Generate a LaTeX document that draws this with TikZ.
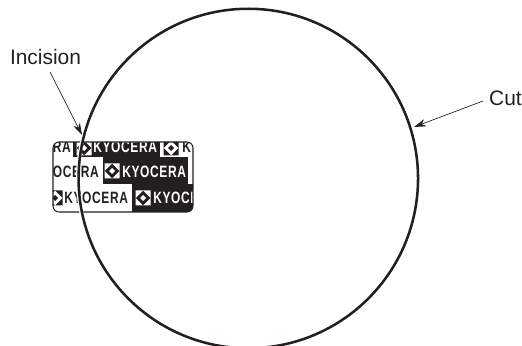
\documentclass[tikz,border=0pt]{standalone}
\usepackage{fontspec}
\setmainfont{Liberation Sans}
\newfontfamily\logofont[FakeStretch=0.73,LetterSpace=4]{Liberation Sans}
\usetikzlibrary{positioning,arrows.meta,calc}
\definecolor{inkcolor}{RGB}{35,31,32}
\begin{document}
\begin{tikzpicture}[
    x=0.75pt, y=-0.75pt,
    callout/.style={font=\fontsize{15.7}{18}\selectfont, text=inkcolor, inner sep=0pt},
    leader/.style={-{Stealth[length=9pt,width=5.5pt]}, draw=inkcolor, line width=0.5pt},
    cutline/.style={draw=inkcolor, line width=1.9pt},
    halo/.style={draw=white, line width=2.8pt},
    patch/.style={fill=inkcolor},
    logo/.style={font=\logofont\fontsize{12.3}{13}\bfseries\selectfont, inner sep=0pt, anchor=base west},
    logomark/.pic={
        \foreach \a in {0,90,180,270}
            \fill[pic actions, rotate=\a] (-7.5,-7.5) -- (0,-7.5) -- (-7.5,0) -- cycle;
        \fill[pic actions] (-3,0) -- (0,-3) -- (3,0) -- (0,3) -- cycle;
    }
]
\useasboundingbox (0,0) rectangle (522,346);

% ===== LABEL SHEET =====
\begin{scope}
    \clip[rounded corners=4.5pt] (53,142) rectangle (193,212);
    \fill[patch] (73,142) rectangle (160,157);
    \fill[patch] (103,157) rectangle (188,184);
    \fill[patch] (132,184) rectangle (193,212);
    % row 1
    \node[logo, text=inkcolor, anchor=base east] (row1a) at (71,152) {KYOCERA};
    \pic[fill=white] at (84,148) {logomark};
    \node[logo, text=white] (row1b) at (93,152) {KYOCERA};
    \pic[fill=inkcolor] at (171,148) {logomark};
    \node[logo, text=inkcolor] (row1c) at (182,152) {KYOCERA};
    % row 2
    \node[logo, text=inkcolor, anchor=base east] (row2a) at (99,177) {KYOCERA};
    \pic[fill=white] at (112,171) {logomark};
    \node[logo, text=white] (row2b) at (122,177) {KYOCERA};
    % row 3
    \pic[fill=inkcolor] at (55,198) {logomark};
    \node[logo, text=inkcolor] (row3a) at (64,204) {KYOCERA};
    \pic[fill=white] at (143,198) {logomark};
    \node[logo, text=white] (row3b) at (153,204) {KYOCERA};
\end{scope}
\draw[inkcolor, line width=0.8pt, rounded corners=4.5pt] (53,142) rectangle (193,212);

% ===== CUT CIRCLE =====
\node[halo, circle, minimum size=255.55pt, inner sep=0pt] (cuthalo) at (248.3,178.5) {};
\node[cutline, circle, minimum size=254.6pt, inner sep=0pt] (cut) at (248.3,178.5) {};

% ===== CALLOUTS =====
\node[callout] (incision) at (45.5,57) {Incision};
\node[callout] (cutlabel) at (505.5,98) {Cut};
\coordinate (incisionstart) at (50,72);
\coordinate (incisiontip) at (82,135);
\coordinate (cutstart) at (483,101);
\coordinate (cuttip) at (414,127);
\draw[leader] (incisionstart) -- (incisiontip);
\draw[leader] (cutstart) -- (cuttip);
\end{tikzpicture}
\end{document}
